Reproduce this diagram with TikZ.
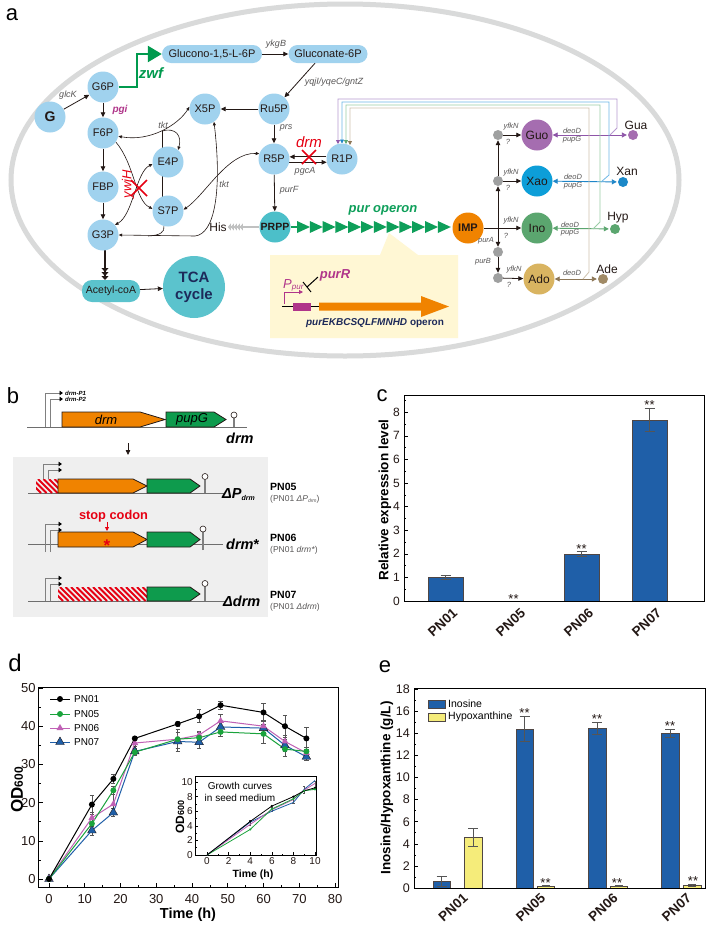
\documentclass[tikz,border=0pt]{standalone}
\usepackage{fontspec}
\setmainfont{Liberation Sans}
\usetikzlibrary{arrows.meta,shapes.geometric,calc}
\pgfdeclarelayer{back}
\pgfdeclarelayer{bg}
\pgfsetlayers{back,bg,main}
\newcommand\myfs[1]{\fontsize{#1}{#1}\selectfont}
\newcommand\ebar[4]{\draw[ebc] ({#1},{#2}) -- ({#1},{#3}) ({#1-#4},{#2}) -- ({#1+#4},{#2}) ({#1-#4},{#3}) -- ({#1+#4},{#3});}
\definecolor{lb}{HTML}{A0D2EE}
\definecolor{tl}{HTML}{4CBFC9}
\definecolor{tl2}{HTML}{5BC3CD}
\definecolor{gz}{HTML}{009A4E}
\definecolor{gp}{HTML}{0E9F5A}
\definecolor{mg}{HTML}{B0358A}
\definecolor{rd}{HTML}{E60012}
\definecolor{og}{HTML}{F08300}
\definecolor{dk}{HTML}{231815}
\definecolor{gl}{HTML}{595757}
\definecolor{navy}{HTML}{1D2A5A}
\definecolor{elg}{HTML}{D9DADA}
\definecolor{pu}{HTML}{A56DB0}
\definecolor{bl}{HTML}{0D9ED8}
\definecolor{gn}{HTML}{5BA66F}
\definecolor{tn}{HTML}{D9B461}
\definecolor{yb}{HTML}{FFF7D4}
\definecolor{gd}{HTML}{9FA0A0}
\definecolor{hisg}{HTML}{C0C1C1}
\definecolor{barb}{HTML}{1F5FA8}
\definecolor{bary}{HTML}{F5EC7A}
\definecolor{boxg}{HTML}{EFEFEF}
\definecolor{ggn}{HTML}{0E9B4D}
\definecolor{bgl}{HTML}{6E6E6E}
\definecolor{ebg}{HTML}{555555}
\definecolor{pnf}{HTML}{1AA33C}
\definecolor{pns}{HTML}{C061B5}
\definecolor{pnv}{HTML}{1F5FA8}
\definecolor{rpu}{HTML}{B89BD0}
\definecolor{rbl}{HTML}{6DB8E6}
\definecolor{rgn}{HTML}{9ACDA6}
\definecolor{rtn}{HTML}{CFC2AE}
\definecolor{apu}{HTML}{8E55A8}
\definecolor{abl}{HTML}{1F86C8}
\definecolor{agn}{HTML}{5BA66F}
\definecolor{atn}{HTML}{8C7656}
\definecolor{xanc}{HTML}{1B88C8}
\definecolor{adec}{HTML}{A08A66}
\tikzset{
  met/.style={circle,fill=lb,inner sep=0pt,minimum size=31pt,font=\myfs{11},text=dk},
  pill/.style={rectangle,rounded corners=9pt,fill=lb,inner sep=1pt,minimum height=18pt,font=\myfs{11},text=dk},
  arr/.style={draw=dk,line width=0.8pt,-{Triangle[length=5pt,width=4.5pt]}},
  tarr/.style={draw=dk,line width=0.6pt},
  lab/.style={font=\myfs{9}\itshape,text=gl,inner sep=0.5pt},
  slab/.style={font=\myfs{7.5}\itshape,text=gl,inner sep=0.5pt},
  gdot/.style={circle,fill=gd,inner sep=0pt,minimum size=10pt},
  mdot/.style={circle,inner sep=0pt,minimum size=10pt},
  rl/.style={line width=0.8pt},
  dar/.style={line width=0.9pt,{Triangle[length=5pt,width=5pt]}-{Triangle[length=5pt,width=5pt]}},
  prom/.style={draw=gray,line width=0.9pt,-{Triangle[length=3.5pt,width=4.5pt,color=black]}},
  geneo/.style={fill=og,draw=dk,line width=0.8pt},
  geneg/.style={fill=ggn,draw=dk,line width=0.8pt},
  bline/.style={draw=bgl,line width=0.8pt},
  hatch/.style={draw=rd,line width=1.8pt},
  ebc/.style={draw=ebg,line width=0.6pt},
  bar/.style={draw=dk!80,line width=0.5pt},
  star/.style={font=\myfs{13},inner sep=0pt,text=dk},
  tkl/.style={font=\myfs{12},text=dk,inner sep=1pt},
  xl/.style={font=\myfs{13.5}\bfseries,rotate=42,anchor=north east,inner sep=1pt,text=dk},
  mka/.style={circle,fill=black,inner sep=0pt,minimum size=6pt},
  mkb/.style={circle,fill=pnf,inner sep=0pt,minimum size=6pt},
  mkc/.style={regular polygon,regular polygon sides=3,fill=pns,inner sep=0pt,minimum size=8pt},
  mkd/.style={regular polygon,regular polygon sides=3,fill=pnv,draw=dk,line width=0.4pt,inner sep=0pt,minimum size=10pt},
  term/.style={draw=gray,line width=1.6pt},
  tball/.style={fill=white,draw=dk,line width=0.6pt},
}
\begin{document}
\begin{tikzpicture}[x=1pt,y=-1pt]
\begin{pgfonlayer}{back}
\fill[white] (0,0) rectangle (708,927);
\draw[elg,line width=5pt] (345,180) ellipse [x radius=334pt,y radius=176pt];
\end{pgfonlayer}
\useasboundingbox (0,0) rectangle (708,927);

% ================= panel a =================
\node[font=\myfs{22}] (la) at (12,15) {a};

% callout
\fill[yb] (270,255) -- (380,255) -- (389,233) -- (418,255) -- (458,255) -- (458,338) -- (270,338) -- cycle;
\draw[black,line width=1.3pt] (282,306.5) -- (320,306.5);
\fill[mg] (293,303) rectangle (311,310.5);
\fill[og] (319,302.5) -- (421,302.5) -- (421,296) -- (449,306.5) -- (421,317) -- (421,310.5) -- (319,310.5) -- cycle;
\draw[mg,line width=0.8pt,-{Triangle[length=4pt,width=4pt]}] (284,304) -- (284,292) -- (303,292);
\node[font=\myfs{13}\itshape,text=mg,anchor=base west,inner sep=0pt] (ppur) at (283,288) {P\raisebox{-1.5pt}{\myfs{8}pur}};
\node[font=\myfs{13}\bfseries\itshape,text=mg] (purR) at (335,275) {purR};
\draw[black,line width=1pt] (318,277) -- (307,287);
\draw[black,line width=1pt] (303,282) -- (311,292);
\node[font=\myfs{10}\bfseries,text=navy] (opl) at (375,323) {\itshape purEKBCSQLFMNHD\upshape{} operon};

% nodes
\node[met,font=\myfs{14}\bfseries] (G) at (50,117) {G};
\node[met] (G6P) at (103,87) {G6P};
\node[met] (F6P) at (103,133) {F6P};
\node[met] (FBP) at (103,187) {FBP};
\node[met] (G3P) at (103,235) {G3P};
\node[met] (E4P) at (168,162) {E4P};
\node[met] (S7P) at (168,211) {S7P};
\node[met] (X5P) at (205,109) {X5P};
\node[met] (Ru5P) at (274,109) {Ru5P};
\node[met] (R5P) at (274,159) {R5P};
\node[met] (R1P) at (342,159) {R1P};
\node[met,fill=tl,font=\myfs{10.5}\bfseries] (PRPP) at (275,227) {PRPP};
\node[pill,minimum width=100pt] (GL) at (212,54) {Glucono-1,5-L-6P};
\node[pill,minimum width=79pt] (GN) at (328,54) {Gluconate-6P};
\node[pill,fill=tl2,minimum width=58pt,minimum height=22pt,rounded corners=10pt,font=\myfs{10.5}] (AC) at (111,291) {Acetyl-coA};
\node[circle,fill=tl2,minimum size=62pt,inner sep=0pt,align=center,font=\fontsize{15}{17}\selectfont\bfseries,text=navy] (TCA) at (194,287) {TCA\\cycle};
\node[font=\myfs{12},text=dk,inner sep=1pt] (His) at (218,227) {His};
\node[met,fill=og,font=\myfs{11}\bfseries] (IMP) at (468,228) {IMP};

\node[gdot] (d1) at (498,135) {};
\node[gdot] (d2) at (498,181) {};
\node[gdot] (d3) at (498,252) {};
\node[gdot] (d4) at (498,278) {};
\coordinate (jn) at (498,228);
\node[met,fill=pu,font=\myfs{12}] (Guo) at (537,135) {Guo};
\node[met,fill=bl,font=\myfs{12}] (Xao) at (537,181) {Xao};
\node[met,fill=gn,font=\myfs{12}] (Ino) at (537,228) {Ino};
\node[met,fill=tn,font=\myfs{12}] (Ado) at (539,279) {Ado};
\node[mdot,fill=pu] (Gua) at (633,135) {};
\node[mdot,fill=xanc] (Xan) at (623,182) {};
\node[mdot,fill=gn] (Hyp) at (615,229) {};
\node[mdot,fill=adec] (Ade) at (603,279) {};
\node[font=\myfs{12},text=dk] (tGua) at (636,125) {Gua};
\node[font=\myfs{12},text=dk] (tXan) at (627,171) {Xan};
\node[font=\myfs{12},text=dk] (tHyp) at (618,218) {Hyp};
\node[font=\myfs{12},text=dk] (tAde) at (607,269) {Ade};

% labels
\node[lab] at (68,95) {glcK};
\node[font=\myfs{10}\bfseries\itshape,text=mg] at (120,110) {pgi};
\node[font=\myfs{15}\bfseries\itshape,text=gz] at (151,73) {zwf};
\node[lab] at (276,44) {ykgB};
\node[lab] at (334,82) {yqjI/yqeC/gntZ};
\node[lab] at (163,125) {tkt};
\node[lab] at (224,184) {tkt};
\node[lab] at (286,128) {prs};
\node[lab] at (289,190) {purF};
\node[lab] at (305,171) {pgcA};
\node[font=\myfs{15}\itshape,text=rd] at (309,142) {drm};
\node[font=\myfs{13}\itshape,text=rd,rotate=90] at (128,184) {ywjH};
\node[font=\myfs{13}\bfseries\itshape,text=gp] at (383,210) {pur operon};
\node[slab] at (511,127) {yfkN};
\node[slab] at (508,142) {?};
\node[slab] at (511,173) {yfkN};
\node[slab] at (508,188) {?};
\node[slab] at (511,221) {yfkN};
\node[slab] at (506,236) {?};
\node[slab] at (514,270) {yfkN};
\node[slab] at (509,285) {?};
\node[slab] at (486,241) {purA};
\node[slab] at (483,262) {purB};
\node[slab] at (572,131) {deoD};
\node[slab] at (572,139.5) {pupG};
\node[slab] at (573,177) {deoD};
\node[slab] at (573,185.5) {pupG};
\node[slab] at (570,224.5) {deoD};
\node[slab] at (570,233) {pupG};
\node[slab] at (572,273) {deoD};

% pur operon triangles
\draw[gp,line width=2.5pt] (PRPP.east) -- (300,227);
\foreach \i in {0,...,11} {\fill[gp] ({297+12.8*\i},221) -- ({310+12.8*\i},227) -- ({297+12.8*\i},233) -- cycle;}

% red crosses
\draw[rd,line width=1.5pt] (131,180) -- (147,196) (147,180) -- (131,196);
\draw[rd,line width=1.5pt] (302,150) -- (316,164) (316,150) -- (302,164);

\begin{pgfonlayer}{bg}
\draw[gz,line width=2.5pt,-{Triangle[length=14pt,width=16pt]}] (G6P.east) -- (137,87) -- (137,54) -- (GL.west);
\draw[arr] (G) -- (G6P);
\draw[arr] (G6P) -- (F6P);
\draw[arr] (F6P) -- (FBP);
\draw[arr] (FBP) -- (G3P);
\draw[arr] (GL) -- (GN);
\draw[arr] (GN.south) ++(-13,0) -- (Ru5P);
\draw[arr] (Ru5P) -- (X5P);
\draw[arr] (Ru5P) -- (R5P);
\draw[arr] (R5P) -- (PRPP);
\draw[arr] (R1P.172) -- (R5P.8);
\draw[arr] (R5P.-12) -- (R1P.-168);
\draw[arr] (AC) -- (TCA);
\draw[dk,line width=1.5pt,-{Triangle[length=4pt,width=7pt]Triangle[length=4pt,width=7pt]Triangle[length=4pt,width=7pt]}] (105,250) -- (105,280);
\draw[hisg,line width=2pt,-{Triangle[length=3pt,width=7pt]Triangle[length=3pt,width=7pt]Triangle[length=3pt,width=7pt]Triangle[length=3pt,width=7pt]Triangle[length=3pt,width=7pt]}] (PRPP.west) -- (His.east);
% tkt / ywjH curves
\draw[tarr,{Triangle[length=3.5pt,width=3pt]}-{Triangle[length=3.5pt,width=3pt]}] (F6P.-12) .. controls (150,142) and (178,125) .. (X5P.172);
\draw[tarr,-{Triangle[length=3.5pt,width=3pt]}] (162,131) .. controls (176,127) and (182,136) .. (E4P.50);
\draw[tarr] (162,131) -- (162,197);
\draw[tarr,{Triangle[length=3.5pt,width=3pt]}-{Triangle[length=3.5pt,width=3pt]}] (G3P.east) -- (195,236) .. controls (215,234) and (222,190) .. (X5P.-55);
\draw[tarr] (S7P.-105) .. controls (165,232) and (160,235.5) .. (148,236);
\draw[tarr,{Triangle[length=3.5pt,width=3pt]}-{Triangle[length=3.5pt,width=3pt]}] (R5P.160) .. controls (228,152) and (205,195) .. (S7P.5);
\draw[tarr,-{Triangle[length=3.5pt,width=3pt]}] (F6P.-35) .. controls (135,165) and (135,200) .. (S7P.172);
\draw[tarr,{Triangle[length=3.5pt,width=3pt]}-{Triangle[length=3.5pt,width=3pt]}] (G3P.40) .. controls (133,215) and (136,172) .. (E4P.188);
% right part
\draw[arr] (IMP) -- (Ino);
\draw[arr] (jn) -- (d2);
\draw[arr] (d2) -- (d1);
\draw[arr] (jn) -- (d3);
\draw[arr] (d3) -- (d4);
\draw[arr] (d1) -- (Guo);
\draw[arr] (d2) -- (Xao);
\draw[arr] (d4) -- (Ado);
\draw[dar,draw=apu,shorten >=1pt] (Guo) -- (Gua);
\draw[dar,draw=abl,shorten >=1pt] (Xao) -- (Xan);
\draw[dar,draw=agn,shorten >=1pt] (Ino) -- (Hyp);
\draw[dar,draw=atn,shorten >=1pt] (Ado) -- (Ade);
\draw[rl,draw=rpu,-{Triangle[length=4pt,width=4pt,color=apu]}] (610,135) -- (617,128) -- (617,99) -- (338,99) -- (338,144);
\draw[rl,draw=rbl,-{Triangle[length=4pt,width=4pt,color=abl]}] (601,182) -- (609,175) -- (609,102) -- (342,102) -- (342,143.5);
\draw[rl,draw=rgn,-{Triangle[length=4pt,width=4pt,color=agn]}] (593,229) -- (600,222) -- (600,105) -- (346,105) -- (346,144);
\draw[rl,draw=rtn,-{Triangle[length=4pt,width=4pt,color=atn]}] (583,279) -- (589,272) -- (589,108) -- (350,108) -- (350,145);
\end{pgfonlayer}

% ================= panel b =================
\node[font=\myfs{22}] (lb) at (13,396) {b};
\draw[bline] (27,427) -- (247,427);
\draw[prom] (45,427) -- (45,393) -- (63,393);
\draw[prom] (50,427) -- (50,399) -- (63,399);
\node[anchor=west,font=\myfs{6}\bfseries\itshape,inner sep=1pt] at (64,393) {drm-P1};
\node[anchor=west,font=\myfs{6}\bfseries\itshape,inner sep=1pt] at (64,399.5) {drm-P2};
\draw[geneo] (62,412) -- (140,412) -- (165,419.5) -- (140,427) -- (62,427) -- cycle;
\node[font=\myfs{13}\itshape] at (106,419.5) {drm};
\draw[geneg] (166,412) -- (214,412) -- (226,419.5) -- (214,427) -- (166,427) -- cycle;
\node[font=\myfs{13}\itshape] at (192,419.5) {pupG};
\draw[term] (234,427) -- (234,418);
\draw[tball] (234,415) circle[radius=3pt];
\node[anchor=base west,font=\myfs{14.5}\bfseries\itshape,inner sep=0pt] at (226,443) {drm};
\draw[arr] (128,443) -- (128,455);
\fill[boxg] (13,457) rectangle (268,617);
% PN05
\draw[bline] (28,493) -- (225,493);
\begin{scope}
\clip (36,479) rectangle (58,493);
\foreach \hx in {16,21.5,...,60} {\draw[hatch] (\hx,479) -- ({\hx+14},493);}
\end{scope}
\draw[prom] (43,479) -- (43,464) -- (62,464);
\draw[prom] (48,479) -- (48,470) -- (62,470);
\draw[geneo] (58,479) -- (133,479) -- (147,486) -- (133,493) -- (58,493) -- cycle;
\draw[geneg] (147,479) -- (190,479) -- (200,486) -- (190,493) -- (147,493) -- cycle;
\draw[term] (205,493) -- (205,480);
\draw[tball] (205,476.5) circle[radius=3pt];
\node[anchor=base west,font=\myfs{14.5}\bfseries\itshape,inner sep=0pt] at (222,498) {ΔP\raisebox{-2pt}{\myfs{7}drm}};
\node[anchor=west,font=\myfs{10.5}\bfseries,inner sep=0pt] at (270,487) {PN05};
\node[anchor=west,font=\myfs{8.5},text=gl,inner sep=0pt] at (270,499) {(PN01 \textit{ΔP}\raisebox{-1pt}{\myfs{5}\textit{drm}})};
% PN06
\draw[bline] (28,544) -- (223,544);
\draw[prom] (45,552) -- (45,524) -- (62,524);
\draw[prom] (50,552) -- (50,530) -- (62,530);
\draw[geneo] (58,532) -- (133,532) -- (147,539.5) -- (133,547) -- (58,547) -- cycle;
\draw[geneg] (147,532) -- (190,532) -- (200,539.5) -- (190,547) -- (147,547) -- cycle;
\draw[term] (203,550) -- (203,532);
\draw[tball] (203,529) circle[radius=3pt];
\node[font=\myfs{17}\bfseries,text=rd] at (107,546) {*};
\node[font=\myfs{12.8}\bfseries,text=rd] at (113.5,516) {stop codon};
\draw[rd,line width=0.8pt,-{Triangle[length=4pt,width=4pt]}] (107,522) -- (107,531);
\node[anchor=base west,font=\myfs{14.5}\bfseries\itshape,inner sep=0pt] at (226,549) {drm\upshape*};
\node[anchor=west,font=\myfs{10.5}\bfseries,inner sep=0pt] at (270,538) {PN06};
\node[anchor=west,font=\myfs{8.5},text=gl,inner sep=0pt] at (270,550) {(PN01 \textit{drm*})};
% PN07
\draw[bline] (28,601) -- (225,601);
\begin{scope}
\clip (58,587) rectangle (147,601);
\foreach \hx in {38,43.5,...,150} {\draw[hatch] (\hx,587) -- ({\hx+14},601);}
\end{scope}
\draw[prom] (45,601) -- (45,578) -- (62,578);
\draw[prom] (50,601) -- (50,584) -- (62,584);
\draw[geneg] (147,587) -- (190,587) -- (200,594) -- (190,601) -- (147,601) -- cycle;
\draw[term] (205,601) -- (205,587);
\draw[tball] (205,583.5) circle[radius=3pt];
\node[anchor=base west,font=\myfs{14.5}\bfseries\itshape,inner sep=0pt] at (223,606) {Δdrm};
\node[anchor=west,font=\myfs{10.5}\bfseries,inner sep=0pt] at (270,595) {PN07};
\node[anchor=west,font=\myfs{8.5},text=gl,inner sep=0pt] at (270,607) {(PN01 \textit{Δdrm})};

% ================= panel c =================
\node[font=\myfs{22}] (lc) at (382,396) {c};
\begin{scope}[shift={(0,601)},y=23.6pt]
\fill[barb] (428,0) rectangle (463,1.0);
\draw[bar] (428,0) rectangle (463,1.0);
\fill[barb] (564,0) rectangle (599,2.0);
\draw[bar] (564,0) rectangle (599,2.0);
\fill[barb] (632,0) rectangle (667,7.68);
\draw[bar] (632,0) rectangle (667,7.68);
\ebar{445.5}{0.93}{1.07}{5}
\ebar{581.5}{1.88}{2.12}{5}
\ebar{649.5}{7.18}{8.18}{5}
\draw[line width=1pt] (404,0) rectangle (704,8.69);
\foreach \vv in {0,...,8} {\draw[line width=0.6pt] (404,\vv) -- ++(4pt,0); \node[tkl,anchor=east] at (401,\vv) {\vv};}
\foreach \vv in {0.5,1.5,...,8.5} {\draw[line width=0.6pt] (404,\vv) -- ++(2pt,0);}
\node[star] at (513.5,0.1) {**};
\node[star] at (581.5,2.2) {**};
\node[star] at (649.5,8.3) {**};
\node[xl] at (452,-0.22) {PN01};
\node[xl] at (520,-0.22) {PN05};
\node[xl] at (588,-0.22) {PN06};
\node[xl] at (656,-0.22) {PN07};
\node[rotate=90,font=\myfs{13.5}\bfseries] at (385,4.28) {Relative expression level};
\end{scope}

% ================= panel d =================
\node[font=\myfs{24}] (ld) at (15,663) {d};
\begin{scope}[shift={(49,879)},x=3.575pt,y=3.82pt]
\draw[line width=1pt] (-2.8,-2.1) rectangle (81.1,50.1);
\foreach \tm in {0,10,...,80} {\draw[line width=0.6pt] (\tm,-2.1) -- ++(0,4pt); \node[tkl,font=\myfs{13},anchor=north] at (\tm,-3.6) {\tm};}
\foreach \tm in {5,15,...,75} {\draw[line width=0.6pt] (\tm,-2.1) -- ++(0,2pt);}
\foreach \vv in {0,10,...,50} {\draw[line width=0.6pt] (-2.8,\vv) -- ++(4pt,0); \node[tkl,font=\myfs{13},anchor=east] at (-3.4,\vv) {\vv};}
\foreach \vv in {5,15,...,45} {\draw[line width=0.6pt] (-2.8,\vv) -- ++(2pt,0);}
% error bars
\foreach \tm/\vv/\ee in {12/19.5/2.5,18/26.2/1.2,24/36.8/0.6,36/40.6/0.6,42/42.6/1.7,48/45.5/1.1,60/43.6/2.3,66/40.0/2.8,72/36.8/3.0,
 12/14.5/1.5,18/23.2/1.0,24/33.2/0.8,36/36.6/2.5,42/37.0/1.5,48/38.5/1.2,60/38.0/2.5,66/34.0/2.0,72/33.4/1.2,
 12/16.0/1.5,18/19.6/2.5,24/35.6/0.8,36/36.6/2.5,42/37.7/1.0,48/41.4/1.8,60/40.0/1.5,66/36.0/1.5,72/33.0/1.0,
 12/12.7/1.2,18/17.4/1.0,24/33.4/0.8,36/36.0/2.5,42/35.8/1.5,48/39.8/1.5,60/39.5/1.0,66/35.0/1.5,72/32.0/1.0}
 {\ebar{\tm}{\vv-\ee}{\vv+\ee}{0.6}}
\draw[pnv,line width=1pt] plot coordinates {(0,0) (12,12.7) (18,17.4) (24,33.4) (36,36.0) (42,35.8) (48,39.8) (60,39.5) (66,35.0) (72,32.0)};
\draw[pns,line width=1pt] plot coordinates {(0,0) (12,16.0) (18,19.6) (24,35.6) (36,36.6) (42,37.7) (48,41.4) (60,40.0) (66,36.0) (72,33.0)};
\draw[pnf,line width=1pt] plot coordinates {(0,0) (12,14.5) (18,23.2) (24,33.2) (36,36.6) (42,37.0) (48,38.5) (60,38.0) (66,34.0) (72,33.4)};
\draw[black,line width=1pt] plot coordinates {(0,0) (12,19.5) (18,26.2) (24,36.8) (36,40.6) (42,42.6) (48,45.5) (60,43.6) (66,40.0) (72,36.8)};
\foreach \p in {(0,0),(12,12.7),(18,17.4),(24,33.4),(36,36.0),(42,35.8),(48,39.8),(60,39.5),(66,35.0),(72,32.0)} {\node[mkd] at \p {};}
\foreach \p in {(0,0),(12,16.0),(18,19.6),(24,35.6),(36,36.6),(42,37.7),(48,41.4),(60,40.0),(66,36.0),(72,33.0)} {\node[mkc] at \p {};}
\foreach \p in {(0,0),(12,14.5),(18,23.2),(24,33.2),(36,36.6),(42,37.0),(48,38.5),(60,38.0),(66,34.0),(72,33.4)} {\node[mkb] at \p {};}
\foreach \p in {(0,0),(12,19.5),(18,26.2),(24,36.8),(36,40.6),(42,42.6),(48,45.5),(60,43.6),(66,40.0),(72,36.8)} {\node[mka] at \p {};}
\end{scope}
\node[rotate=90,font=\myfs{17}\bfseries] at (17,790) {OD\myfs{12}600};
\node[font=\myfs{14.5}\bfseries] at (188,915) {Time (h)};
% legend
\draw[black,line width=1pt] (50,699) -- (70,699); \node[mka] at (60,699) {};
\draw[pnf,line width=1pt] (50,714) -- (70,714); \node[mkb] at (60,714) {};
\draw[pns,line width=1pt] (50,728) -- (70,728); \node[mkc] at (60,728) {};
\draw[pnv,line width=1pt] (50,742) -- (70,742); \node[mkd] at (60,742) {};
\node[anchor=west,font=\myfs{10},inner sep=0pt] at (74,699) {PN01};
\node[anchor=west,font=\myfs{10},inner sep=0pt] at (74,714) {PN05};
\node[anchor=west,font=\myfs{10},inner sep=0pt] at (74,728) {PN06};
\node[anchor=west,font=\myfs{10},inner sep=0pt] at (74,742) {PN07};
% inset
\fill[white] (195,776) rectangle (316,855);
\begin{scope}[shift={(207,855)},x=10.8pt,y=7.3pt]
\draw[line width=0.8pt] (-1.1,0) rectangle (10.1,10.8);
\foreach \tm in {0,2,...,10} {\draw[line width=0.5pt] (\tm,0) -- ++(0,3pt); \node[tkl,font=\myfs{10},anchor=north,inner sep=0.5pt] at (\tm,-0.3) {\tm};}
\foreach \tm in {1,3,...,9} {\draw[line width=0.5pt] (\tm,0) -- ++(0,1.5pt);}
\foreach \vv in {0,2,...,10} {\draw[line width=0.5pt] (-1.1,\vv) -- ++(3pt,0); \node[tkl,font=\myfs{10},anchor=east,inner sep=0.5pt] at (-1.25,\vv) {\vv};}
\foreach \vv in {1,3,...,9} {\draw[line width=0.5pt] (-1.1,\vv) -- ++(1.5pt,0);}
\foreach \tm/\vv/\ee in {8/7.6/0.5,9/8.9/0.5,10/9.6/0.5,6/6.3/0.3,4/4.4/0.3}{\ebar{\tm}{\vv-\ee}{\vv+\ee}{0.12}}
\draw[pnv,line width=0.8pt] plot coordinates {(0,0) (4,4.5) (6,6.0) (8,7.2) (9,9.0) (10,10.2)};
\draw[pns,line width=0.8pt] plot coordinates {(0,0) (4,4.2) (6,6.2) (8,7.6) (9,8.9) (10,9.8)};
\draw[pnf,line width=0.8pt] plot coordinates {(0,0) (4,3.5) (6,6.3) (8,7.7) (9,8.8) (10,9.0)};
\draw[black,line width=0.8pt] plot coordinates {(0,0) (4,4.6) (6,6.7) (8,8.0) (9,8.8) (10,9.2)};
\foreach \p in {(4,4.6),(6,6.7),(8,8.0),(9,8.8),(10,9.2)} {\fill[black] \p circle[radius=1.2pt];}
\foreach \p in {(4,3.5),(6,6.3),(8,7.7),(9,8.8),(10,9.0)} {\fill[pnf] \p circle[radius=1.2pt];}
\end{scope}
\node[align=center,font=\fontsize{10}{11.5}\selectfont] at (240,792) {Growth curves\\in seed medium};
\node[font=\myfs{10.5}\bfseries] at (253,875) {Time (h)};
\node[rotate=90,font=\myfs{12}\bfseries] at (180,817) {OD\myfs{9}600};

% ================= panel e =================
\node[font=\myfs{22}] (le) at (385,667) {e};
\begin{scope}[shift={(0,888)},y=11.05pt]
\foreach \xa/\xb/\hh in {433/450/0.6,516/533/14.4,588/606/14.5,661/679/14.0} {\fill[barb] (\xa,0) rectangle (\xb,\hh); \draw[bar] (\xa,0) rectangle (\xb,\hh);}
\foreach \xa/\xb/\hh in {464/482/4.6,537/554/0.2,610/627/0.2,683/701/0.25} {\fill[bary] (\xa,0) rectangle (\xb,\hh); \draw[bar] (\xa,0) rectangle (\xb,\hh);}
\ebar{441.5}{0.15}{1.05}{5}
\ebar{473}{3.8}{5.4}{5}
\ebar{524.5}{13.3}{15.5}{5}
\ebar{545.5}{0.12}{0.28}{4}
\ebar{597}{13.95}{15.0}{5}
\ebar{618.5}{0.12}{0.28}{4}
\ebar{670}{13.6}{14.4}{5}
\ebar{692}{0.15}{0.35}{4}
\draw[line width=1pt] (414,0) rectangle (705,18.05);
\foreach \vv in {0,2,...,18} {\draw[line width=0.6pt] (414,\vv) -- ++(4pt,0); \node[tkl,font=\myfs{12.5},anchor=east] at (411,\vv) {\vv};}
\foreach \vv in {1,3,...,17} {\draw[line width=0.6pt] (414,\vv) -- ++(2pt,0);}
\node[star] at (524.5,15.85) {**};
\node[star] at (597,15.3) {**};
\node[star] at (670,14.7) {**};
\node[star] at (545.5,0.45) {**};
\node[star] at (617,0.45) {**};
\node[star] at (693,0.6) {**};
\node[xl] at (462.5,-0.27) {PN01};
\node[xl] at (540,-0.27) {PN05};
\node[xl] at (612.5,-0.27) {PN06};
\node[xl] at (686,-0.27) {PN07};
\node[rotate=90,font=\myfs{13.5}\bfseries] at (387,9.05) {Inosine/Hypoxanthine (g/L)};
\end{scope}
\fill[barb] (428,700) rectangle (445,708); \draw[bar] (428,700) rectangle (445,708);
\fill[bary] (428,713) rectangle (445,721); \draw[bar] (428,713) rectangle (445,721);
\node[anchor=west,font=\myfs{10.5},inner sep=0pt] at (448,704) {Inosine};
\node[anchor=west,font=\myfs{10.5},inner sep=0pt] at (448,717) {Hypoxanthine};
\end{tikzpicture}
\end{document}
